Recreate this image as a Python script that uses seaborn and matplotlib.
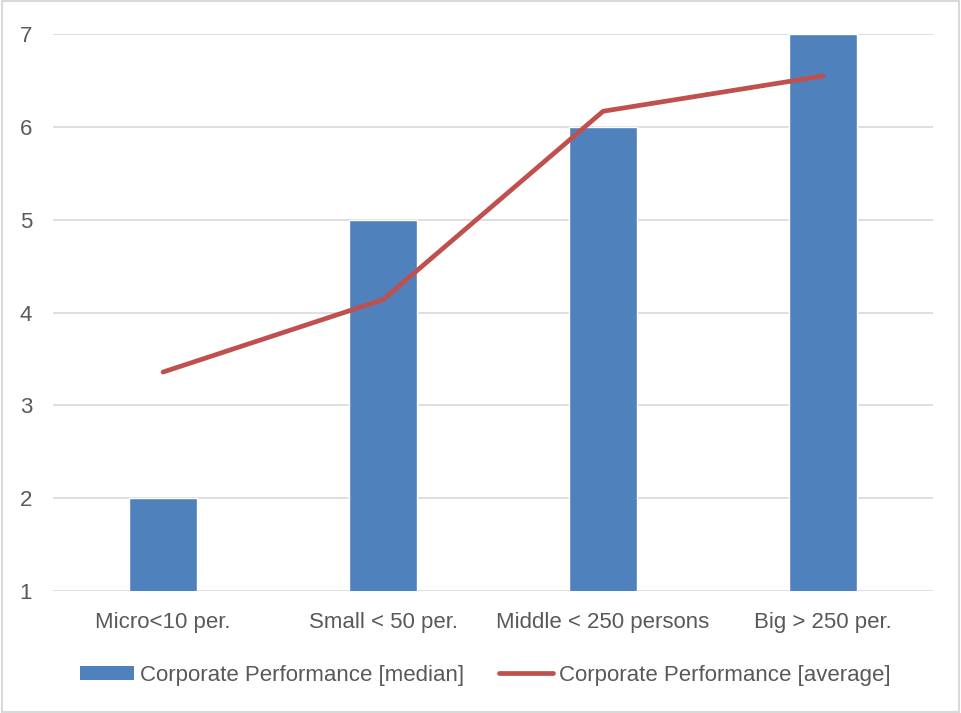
import matplotlib
matplotlib.use("Agg")
import matplotlib.pyplot as plt
import seaborn as sns
from matplotlib.patches import Patch, Rectangle
from matplotlib.lines import Line2D

categories = ["Micro<10 per.", "Small < 50 per.", "Middle < 250 persons", "Big > 250 per."]
median_vals = [2, 5, 6, 7]
average_vals = [3.36, 4.14, 6.17, 6.55]

bar_color = "#4F81BD"
line_color = "#C0504D"
text_color = "#595959"

sns.set_theme(style="white")
plt.rcParams["font.family"] = ["Liberation Sans", "DejaVu Sans"]

fig = plt.figure(figsize=(9.61, 7.13), dpi=100)
ax = fig.add_axes([0.0552, 0.171, 0.9158, 0.781])

sns.barplot(x=categories, y=median_vals, color=bar_color, width=0.31,
            saturation=1, ax=ax, zorder=2)
sns.pointplot(x=categories, y=average_vals, color=line_color, markers="",
              linewidth=3.4, ax=ax, zorder=3)

ax.set_ylim(1, 7)
ax.set_yticks(range(1, 8))
ax.set_xlim(-0.5, 3.5)
ax.yaxis.grid(True, color="#d9d9d9", lw=1.2, zorder=0)
ax.set_axisbelow(True)
for s in ax.spines.values():
    s.set_visible(False)
ax.tick_params(axis="both", length=0, labelsize=16, labelcolor=text_color)
ax.tick_params(axis="x", pad=15)
ax.tick_params(axis="y", pad=15)
ax.set_xlabel("")
ax.set_ylabel("")

handles = [
    Patch(facecolor=bar_color, edgecolor="none"),
    Line2D([0], [0], color=line_color, lw=3.4),
]
labels = ["Corporate Performance [median]", "Corporate Performance [average]"]
fig.legend(handles, labels, loc="center", bbox_to_anchor=(0.505, 0.053),
           ncol=2, frameon=False, fontsize=16, labelcolor=text_color,
           handlelength=2.4, handleheight=0.6, handletextpad=0.27,
           columnspacing=1.6)

fig.patches.append(Rectangle((0.002, 0.002), 0.996, 0.996, transform=fig.transFigure,
                             fill=False, edgecolor="#d9d9d9", lw=1.5))

fig.savefig("out.png", dpi=100)
